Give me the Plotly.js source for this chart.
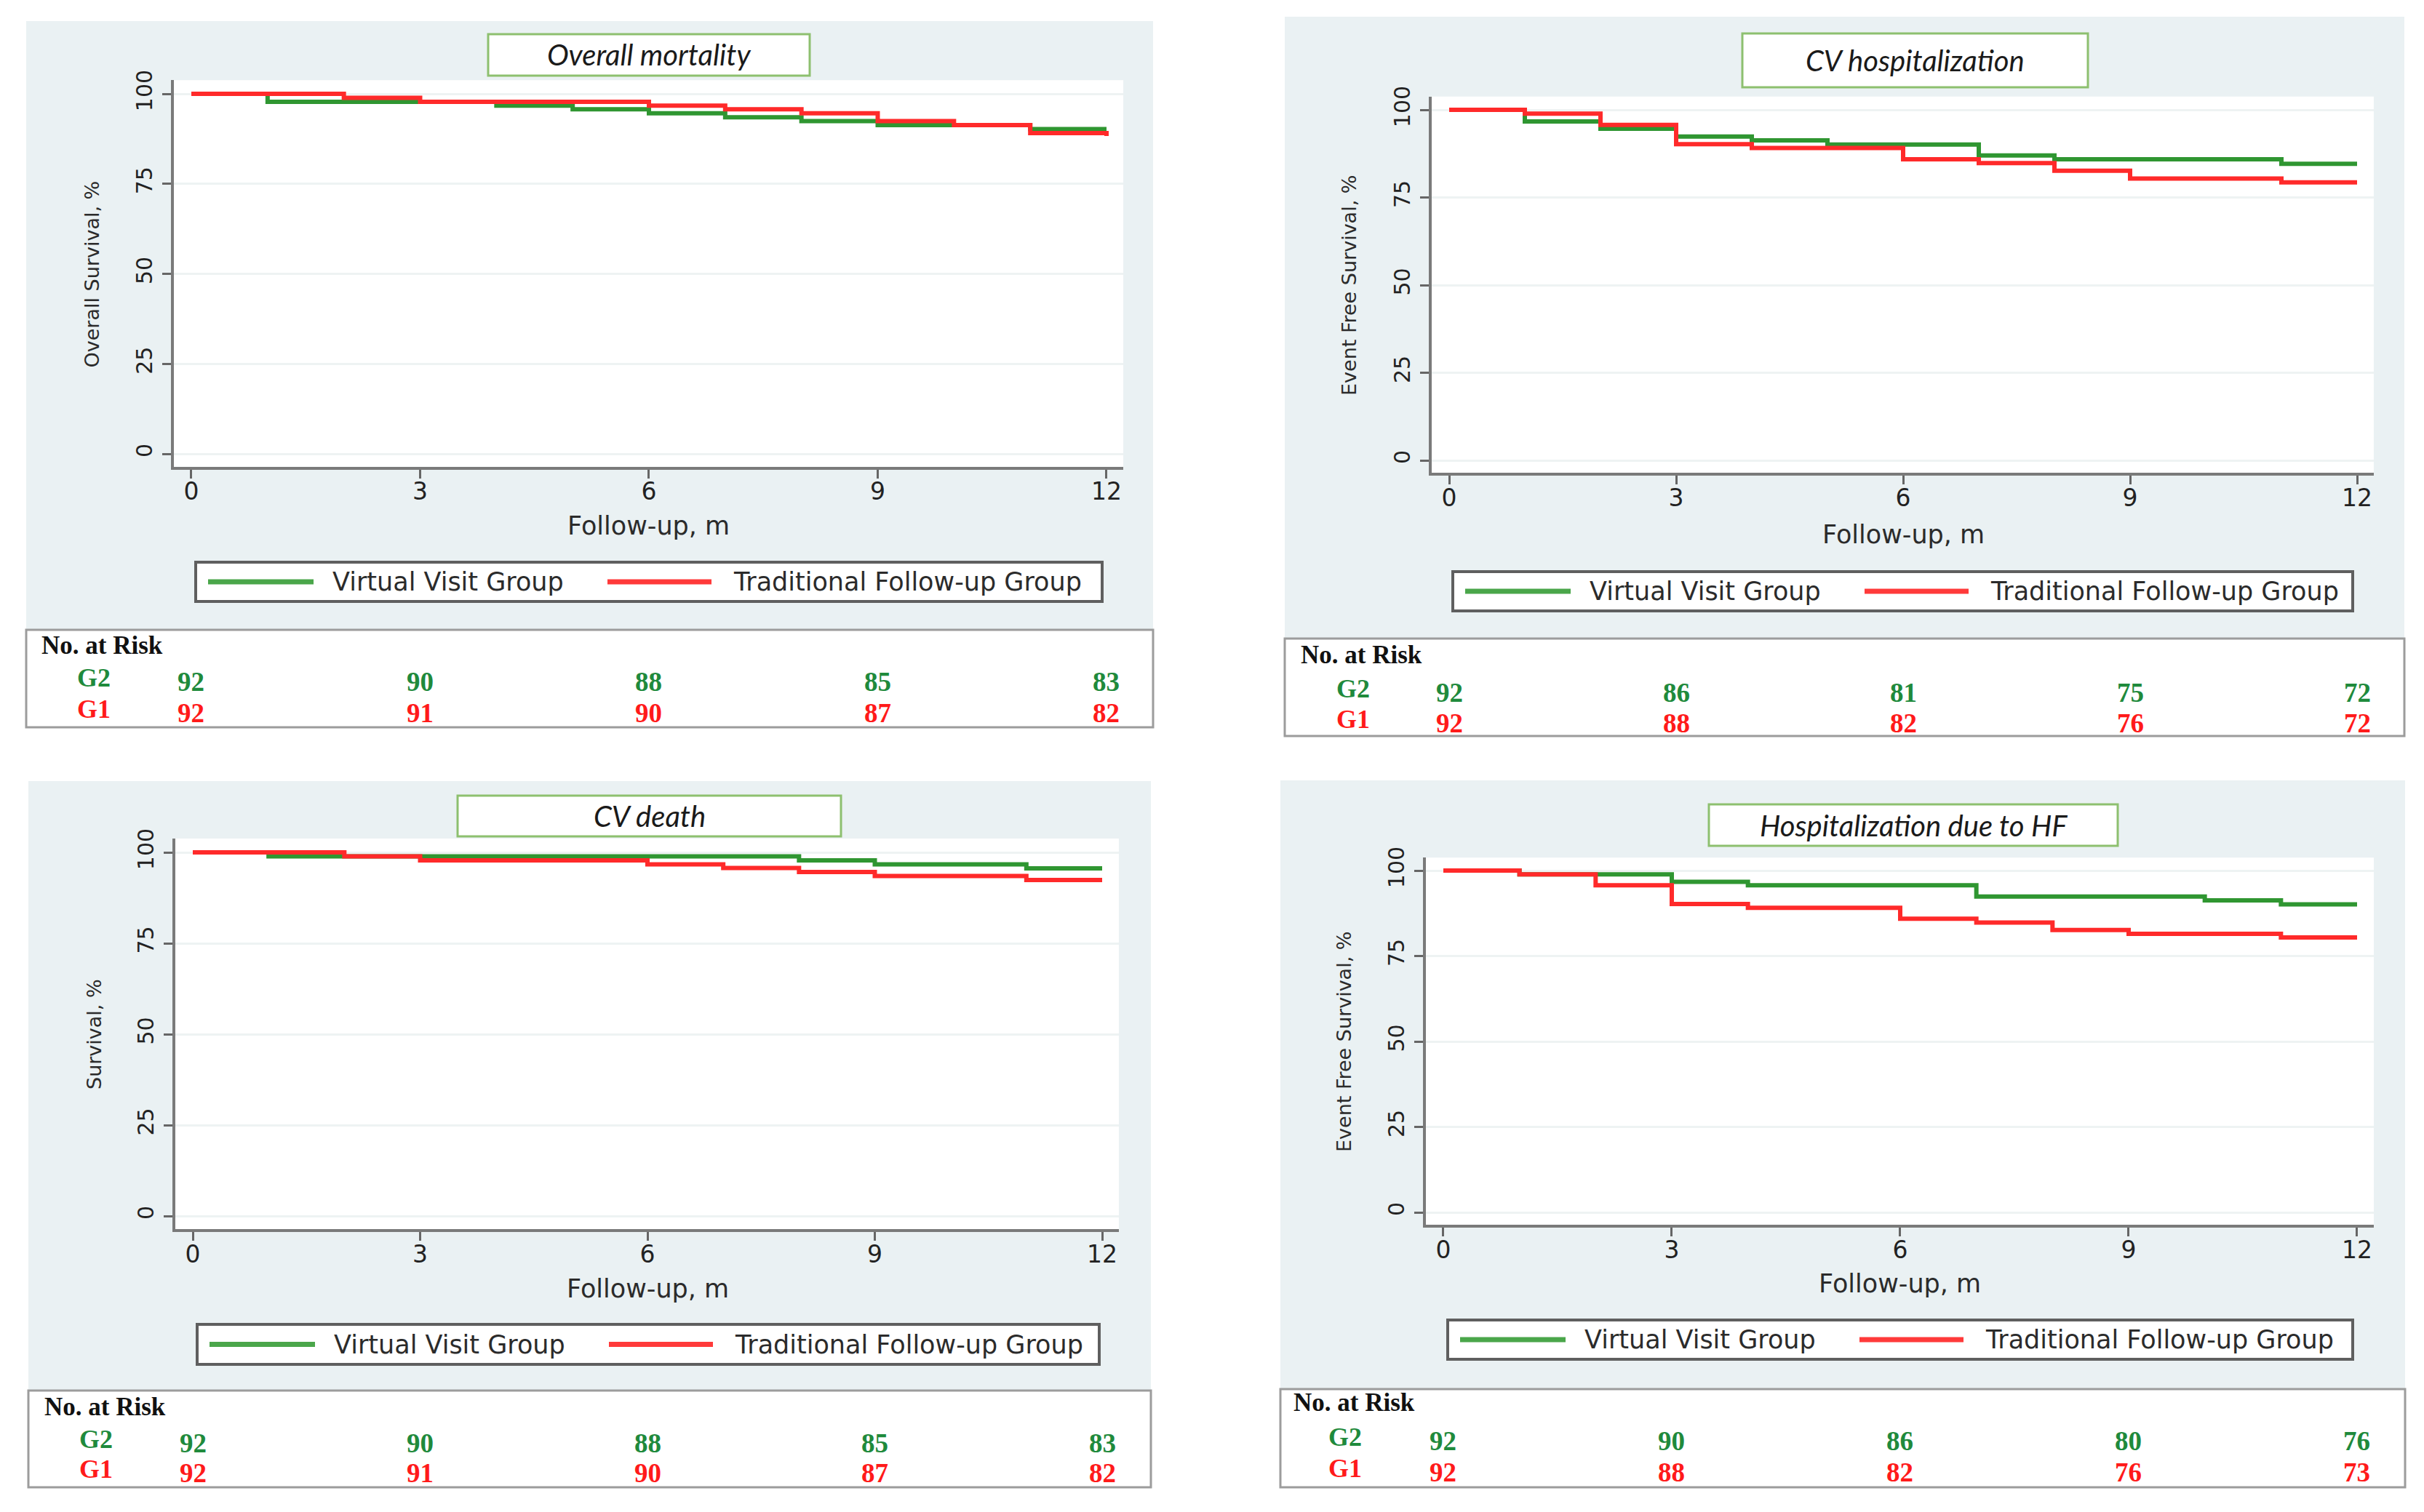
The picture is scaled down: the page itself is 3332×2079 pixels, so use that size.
<!DOCTYPE html>
<html>
<head>
<meta charset="utf-8">
<script src="https://cdn.plot.ly/plotly-3.0.1.min.js"></script>
<style>html,body{margin:0;padding:0;background:#fff;}#chart{width:3332px;height:2079px;}</style>
</head>
<body>
<div id="chart"></div>
<script>
// ---------------- DATA ----------------
const months = [0, 3, 6, 9, 12];
const yTicks = [0, 25, 50, 75, 100];
const groupNames = ['Virtual Visit Group', 'Traditional Follow-up Group'];
const panelTitles = ['Overall mortality', 'CV hospitalization', 'CV death', 'Hospitalization due to HF'];
const yTitles = ['Overall Survival, %', 'Event Free Survival, %', 'Survival, %', 'Event Free Survival, %'];
const xTitle = 'Follow-up, m';
const riskHeader = 'No. at Risk';
const riskRowLabels = ['G2', 'G1'];

// Overall mortality
const omVirtualT = [0, 1, 4, 5, 6, 7, 8, 9, 11, 12];
const omVirtualS = [100, 97.8, 96.7, 95.7, 94.6, 93.5, 92.4, 91.3, 90.2, 90.2];
const omTradT = [0, 2, 3, 6, 7, 8, 9, 10, 11, 12];
const omTradS = [100, 98.9, 97.8, 96.7, 95.7, 94.6, 92.4, 91.3, 89.1, 88.3];
const omRiskG2 = [92, 90, 88, 85, 83];
const omRiskG1 = [92, 91, 90, 87, 82];

// CV hospitalization
const cvhVirtualT = [0, 1, 2, 3, 4, 5, 7, 8, 11, 12];
const cvhVirtualS = [100, 96.7, 94.6, 92.4, 91.3, 90.1, 87.0, 85.9, 84.6, 84.6];
const cvhTradT = [0, 1, 2, 3, 4, 6, 7, 8, 9, 11, 12];
const cvhTradS = [100, 98.9, 95.7, 90.2, 89.1, 85.9, 84.8, 82.6, 80.4, 79.3, 79.3];
const cvhRiskG2 = [92, 86, 81, 75, 72];
const cvhRiskG1 = [92, 88, 82, 76, 72];

// CV death
const cvdVirtualT = [0, 1, 8, 9, 11, 12];
const cvdVirtualS = [100, 98.9, 97.8, 96.7, 95.6, 95.6];
const cvdTradT = [0, 2, 3, 6, 7, 8, 9, 11, 12];
const cvdTradS = [100, 98.9, 97.8, 96.7, 95.7, 94.6, 93.5, 92.4, 92.4];
const cvdRiskG2 = [92, 90, 88, 85, 83];
const cvdRiskG1 = [92, 91, 90, 87, 82];

// Hospitalization due to HF
const hfVirtualT = [0, 1, 3, 4, 7, 10, 11, 12];
const hfVirtualS = [100, 98.9, 96.7, 95.7, 92.4, 91.3, 90.1, 90.1];
const hfTradT = [0, 1, 2, 3, 4, 6, 7, 8, 9, 11, 12];
const hfTradS = [100, 98.9, 95.7, 90.2, 89.1, 85.9, 84.8, 82.6, 81.5, 80.4, 80.4];
const hfRiskG2 = [92, 90, 86, 80, 76];
const hfRiskG1 = [92, 88, 82, 76, 73];

const curves = [
  [[omVirtualT, omVirtualS], [omTradT, omTradS]],
  [[cvhVirtualT, cvhVirtualS], [cvhTradT, cvhTradS]],
  [[cvdVirtualT, cvdVirtualS], [cvdTradT, cvdTradS]],
  [[hfVirtualT, hfVirtualS], [hfTradT, hfTradS]]
];
const risks = [
  [omRiskG2, omRiskG1], [cvhRiskG2, cvhRiskG1], [cvdRiskG2, cvdRiskG1], [hfRiskG2, hfRiskG1]
];

// ---------------- LAYOUT GEOMETRY (pixels) ----------------
const W = 3332, H = 2079;
const px = v => v / W;
const py = v => 1 - v / H;

const geo = [
  {x0: 263, x12: 1521, y100: 129, y0: 624, bg: [36, 29, 1585, 866], table: [36, 866, 1585, 1000],
   title: [671, 47, 1113, 104], legend: [269, 773, 1515, 827], xtY: 723, ytX: 126,
   headX: 55, headY: 887, labX: 129, rowY: [932, 975]},
  {x0: 1992, x12: 3240, y100: 151, y0: 633, bg: [1766, 23, 3305, 878], table: [1766, 878, 3305, 1012],
   title: [2395, 46, 2870, 120], legend: [1997, 786, 3234, 840], xtY: 735, ytX: 1854,
   headX: 1786, headY: 900, labX: 1860, rowY: [947, 989]},
  {x0: 265, x12: 1515, y100: 1172, y0: 1672, bg: [39, 1074, 1582, 1912], table: [39, 1912, 1582, 2045],
   title: [629, 1094, 1156, 1150], legend: [271, 1821, 1511, 1876], xtY: 1772, ytX: 129,
   headX: 59, headY: 1934, labX: 132, rowY: [1979, 2020]},
  {x0: 1984, x12: 3240, y100: 1197, y0: 1667, bg: [1760, 1073, 3306, 1910], table: [1760, 1910, 3306, 2045],
   title: [2349, 1106, 2911, 1163], legend: [1990, 1815, 3234, 1869], xtY: 1765, ytX: 1847,
   headX: 1776, headY: 1928, labX: 1849, rowY: [1976, 2019]}
];

const XR = [-0.23, 12.22];
const YR = [-3.6, 103.8];
const lineColors = ['#2f9631', '#ff2a2a'];
const legendColors = ['#4aa64a', '#ff3a3a'];
const textColors = ['#1f8a3c', '#ff1a1a'];
const panelBg = '#eaf1f3';
const axisFont = 'DejaVu Sans, Liberation Sans, sans-serif';
const serifFont = 'Liberation Serif, Times New Roman, serif';

const traces = [];
const shapes = [];
const annotations = [];
const layout = {
  width: W, height: H,
  margin: {l: 0, r: 0, t: 0, b: 0, pad: 0},
  paper_bgcolor: '#ffffff',
  plot_bgcolor: 'rgba(0,0,0,0)',
  showlegend: false,
  shapes: shapes,
  annotations: annotations
};

geo.forEach((g, i) => {
  const k = i === 0 ? '' : String(i + 1);
  const xa = 'x' + k, ya = 'y' + k;
  const ppm = (g.x12 - g.x0) / 12;
  const ppu = (g.y0 - g.y100) / 100;
  const left = g.x0 + XR[0] * ppm, right = g.x12 + (XR[1] - 12) * ppm;
  const top = g.y100 - (YR[1] - 100) * ppu, bottom = g.y0 - YR[0] * ppu;

  shapes.push({type: 'rect', xref: 'paper', yref: 'paper', layer: 'below',
    x0: px(g.bg[0]), x1: px(g.bg[2]), y0: py(g.bg[3]), y1: py(g.bg[1]),
    fillcolor: panelBg, line: {width: 0}});
  shapes.push({type: 'rect', xref: 'paper', yref: 'paper', layer: 'below',
    x0: px(left), x1: px(right), y0: py(bottom), y1: py(top),
    fillcolor: '#ffffff', line: {width: 0}});
  shapes.push({type: 'rect', xref: 'paper', yref: 'paper', layer: 'below',
    x0: px(g.title[0]), x1: px(g.title[2]), y0: py(g.title[3]), y1: py(g.title[1]),
    fillcolor: '#ffffff', line: {width: 3, color: '#8dc06f'}});
  shapes.push({type: 'rect', xref: 'paper', yref: 'paper', layer: 'below',
    x0: px(g.legend[0]), x1: px(g.legend[2]), y0: py(g.legend[3]), y1: py(g.legend[1]),
    fillcolor: '#ffffff', line: {width: 4, color: '#5f5f5f'}});
  shapes.push({type: 'rect', xref: 'paper', yref: 'paper', layer: 'below',
    x0: px(g.table[0]), x1: px(g.table[2]), y0: py(g.table[3]), y1: py(g.table[1]),
    fillcolor: '#ffffff', line: {width: 3, color: '#9c9c9c'}});

  const ly = (g.legend[1] + g.legend[3]) / 2;
  const keyOff = [[17, 162, 186], [566, 709, 737]];
  keyOff.forEach((o, j) => {
    shapes.push({type: 'line', xref: 'paper', yref: 'paper',
      x0: px(g.legend[0] + o[0]), x1: px(g.legend[0] + o[1]), y0: py(ly), y1: py(ly),
      line: {color: legendColors[j], width: 7}});
    annotations.push({xref: 'paper', yref: 'paper', x: px(g.legend[0] + o[2]), y: py(ly),
      xanchor: 'left', yanchor: 'middle', showarrow: false, text: groupNames[j],
      font: {family: axisFont, size: 35, color: '#2b2b2b'}});
  });

  annotations.push({xref: 'paper', yref: 'paper', x: px((g.title[0] + g.title[2]) / 2),
    y: py((g.title[1] + g.title[3]) / 2), xanchor: 'center', yanchor: 'middle', showarrow: false,
    text: panelTitles[i], font: {family: 'Lato, Open Sans, sans-serif', size: 40, style: 'italic', color: '#1a1a1a'}});

  annotations.push({xref: xa, yref: 'paper', x: 6, y: py(g.xtY), xanchor: 'center', yanchor: 'middle',
    showarrow: false, text: xTitle, font: {family: axisFont, size: 35, color: '#2b2b2b'}});
  annotations.push({xref: 'paper', yref: ya, x: px(g.ytX), y: 50, xanchor: 'center', yanchor: 'middle',
    showarrow: false, textangle: -90, text: yTitles[i], font: {family: axisFont, size: 27, color: '#2b2b2b'}});

  annotations.push({xref: 'paper', yref: 'paper', x: px(g.headX), y: py(g.headY), xanchor: 'left',
    yanchor: 'middle', showarrow: false, text: '<b>' + riskHeader + '</b>',
    font: {family: serifFont, size: 35, color: '#111'}});
  riskRowLabels.forEach((lab, j) => {
    annotations.push({xref: 'paper', yref: 'paper', x: px(g.labX), y: py(g.rowY[j]), xanchor: 'center',
      yanchor: 'middle', showarrow: false, text: '<b>' + lab + '</b>',
      font: {family: serifFont, size: 36, color: textColors[j]}});
    risks[i][j].forEach((v, m) => {
      annotations.push({xref: xa, yref: 'paper', x: months[m], y: py(g.rowY[j] + 5), xanchor: 'center',
        yanchor: 'middle', showarrow: false, text: '<b>' + v + '</b>',
        font: {family: serifFont, size: 37, color: textColors[j]}});
    });
  });

  curves[i].forEach((c, j) => {
    traces.push({type: 'scatter', mode: 'lines', x: c[0], y: c[1], xaxis: xa, yaxis: ya,
      name: groupNames[j], line: {shape: 'hv', color: lineColors[j], width: 6}, cliponaxis: false,
      hoverinfo: 'skip'});
  });

  layout['xaxis' + k] = {
    domain: [px(left), px(right)], range: XR, anchor: ya, tickvals: months, ticktext: months.map(String),
    ticks: 'outside', ticklen: 12, tickwidth: 3, tickcolor: '#666', showline: true, linecolor: '#7a7a7a',
    linewidth: 4, showgrid: false, zeroline: false, ticklabelstandoff: -10,
    tickfont: {family: axisFont, size: 33, color: '#222'}, fixedrange: true
  };
  layout['yaxis' + k] = {
    domain: [py(bottom), py(top)], range: YR, anchor: xa, tickvals: yTicks, ticktext: yTicks.map(String),
    tickangle: -90, ticks: 'outside', ticklen: 12, tickwidth: 3, tickcolor: '#666', showline: true,
    linecolor: '#7a7a7a', linewidth: 4, showgrid: true, gridcolor: '#eef3f3', gridwidth: 3,
    zeroline: false, ticklabelstandoff: 2,
    tickfont: {family: axisFont, size: 30, color: '#222'}, fixedrange: true
  };
});

Plotly.newPlot('chart', traces, layout, {staticPlot: true, displayModeBar: false});
</script>
</body>
</html>
